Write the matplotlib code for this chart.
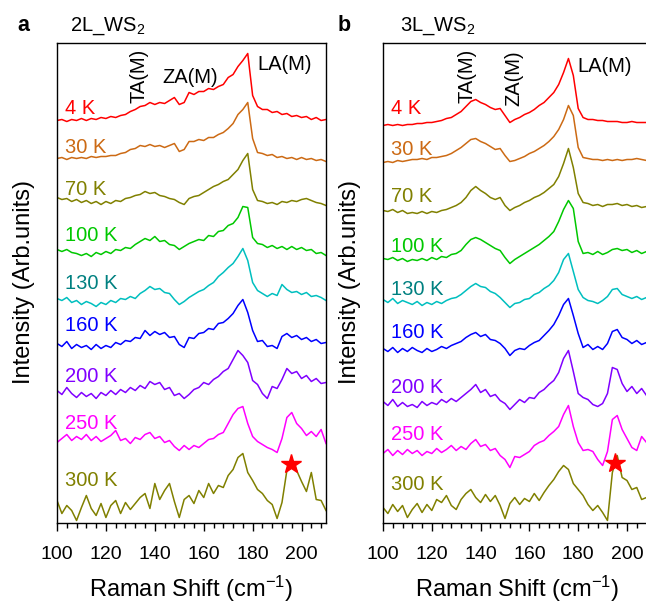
import numpy as np
import matplotlib
matplotlib.use('Agg')
import matplotlib.pyplot as plt
from matplotlib.ticker import MultipleLocator

plt.rcParams['font.family'] = ['Liberation Sans', 'DejaVu Sans']
plt.rcParams['mathtext.fontset'] = 'custom'
plt.rcParams['mathtext.rm'] = 'Liberation Sans'
plt.rcParams['mathtext.it'] = 'Liberation Sans:italic'
plt.rcParams['mathtext.bf'] = 'Liberation Sans:bold'

# Raman shift grid (cm-1)
shift = np.arange(100, 211, 2)

temps = ['4 K', '30 K', '70 K', '100 K', '130 K', '160 K', '200 K', '250 K', '300 K']
line_colors = ['#FF0000', '#CC6A14', '#808000', '#00C800', '#00BFBF',
               '#0000FF', '#8000FF', '#FF00FF', '#808000']
label_colors = ['#FF0000', '#CC6A14', '#808000', '#00C800', '#008080',
                '#0000FF', '#8000FF', '#FF00FF', '#808000']

# vertical offsets of the stacked spectra
offsets_2L = [402, 364, 324, 272, 224, 179, 132, 80, 17]
offsets_3L = [397, 360, 312, 264, 223, 174, 121, 69, 15]

# 2L WS2 spectra (arb. units)
a_4K = [0, 1, -1, 1, 0, 2, 0, 2, 1, 3,
        2, 4, 3, 5, 6, 9, 11, 14, 15, 18,
        16, 18, 17, 20, 23, 16, 18, 28, 26, 29,
        29, 32, 31, 34, 36, 43, 46, 54, 60, 67,
        25, 14, 11, 11, 8, 9, 6, 7, 4, 5,
        3, 4, 1, 3, 0, 1]
a_30K = [0, 1, -1, 1, 0, 1, 0, 2, 1, 2,
         2, 3, 3, 5, 6, 9, 10, 13, 12, 14,
         12, 13, 11, 13, 15, 7, 9, 17, 17, 19,
         18, 21, 21, 24, 26, 30, 35, 44, 49, 56,
         20, 6, 5, 3, 4, 1, 2, 0, 1, -1,
         1, -1, 0, -2, -1, -3]
a_70K = [1, -1, 0, -3, -1, -4, -2, -5, -3, -6,
         -3, -5, -2, -3, 0, 1, 3, 4, 7, 5,
         6, 3, 2, 0, -1, -4, -6, 0, 2, 3,
         6, 9, 12, 14, 17, 19, 24, 29, 38, 45,
         9, -2, -3, -5, -4, -6, -3, -4, -2, -3,
         -1, 0, -2, -4, -5, -7]
a_100K = [1, -1, 1, -2, -3, -5, -3, -6, -2, -4,
          -1, -3, 1, 0, 3, 2, 6, 9, 12, 10,
          14, 9, 10, 6, 5, 1, 4, 7, 9, 11,
          10, 15, 14, 19, 20, 25, 27, 33, 44, 43,
          13, 7, 6, 3, 5, 2, 4, 1, 4, 1,
          3, 0, 1, -3, -2, -5]
a_130K = [0, -2, 1, -4, -2, -6, -3, -5, -8, -4,
          -6, -2, -4, 0, -1, 2, 0, 5, 8, 12,
          9, 10, 6, 5, -1, -6, -3, 1, 4, 7,
          9, 13, 16, 22, 26, 31, 35, 42, 50, 38,
          16, 8, 5, 2, 5, 3, 14, 9, 6, 7,
          4, 6, 2, 3, 1, -2]
a_160K = [0, -3, 2, -5, -1, -4, -2, -6, -1, -5,
          -2, -4, 1, -1, 3, 2, 6, 5, 13, 8,
          12, 9, 11, 6, 7, -1, -4, 6, 5, 10,
          11, 15, 14, 20, 21, 25, 30, 38, 44, 31,
          13, 2, 3, -3, -2, -5, 7, 10, 6, 8,
          4, 6, 2, 4, 0, 1]
a_200K = [0, -4, 3, -3, -7, -2, -6, -3, -8, -2,
          -5, 0, -4, 1, -2, 3, 0, 5, 2, 9,
          6, 8, 1, 3, -5, -3, -8, -4, 1, 3,
          8, 6, 11, 14, 19, 22, 31, 40, 35, 28,
          10, 6, -3, -8, 4, 2, 11, 22, 17, 19,
          12, 15, 9, 12, 7, 8]
a_250K = [0, 4, 8, 2, 6, 3, 8, 2, 6, 1,
          4, 7, 12, 2, 4, -1, 5, 3, 8, 10,
          4, 6, 0, 2, -4, -8, -3, -7, -3, -5,
          -1, 3, 4, 8, 10, 19, 28, 34, 36, 19,
          6, 1, -2, -5, -7, -10, 4, 25, 30, 19,
          14, 7, 11, 6, 13, -1]
a_300K = [5, -8, 0, -5, -15, -2, 10, -3, -10, 2,
          -12, 0, 5, -8, 3, -4, 2, 8, 12, -3,
          22, 6, 15, 22, 4, -12, 6, 10, 2, 15,
          8, 22, 12, 20, 18, 30, 36, 48, 52, 33,
          25, 16, 12, 5, 1, -13, 3, 35, 42, 35,
          24, 14, 33, 6, 5, -5]

# 3L WS2 spectra
b_4K = [0, 1, 0, 1, 0, 1, 1, 2, 2, 3,
        3, 4, 5, 7, 8, 11, 14, 19, 24, 26,
        23, 21, 18, 16, 17, 10, 3, 6, 8, 11,
        13, 16, 20, 23, 28, 33, 41, 53, 67, 50,
        17, 8, 6, 6, 5, 5, 4, 4, 4, 3,
        3, 4, 3, 3, 3, 3]
b_30K = [0, 1, 0, 2, 1, 2, 3, 3, 4, 3,
         5, 5, 6, 7, 9, 12, 15, 19, 23, 24,
         21, 19, 16, 13, 14, 7, 1, 2, 4, 6,
         9, 11, 14, 17, 21, 26, 33, 43, 57, 47,
         15, 5, 4, 3, 3, 2, 3, 2, 3, 2,
         3, 3, 4, 3, 2, 2]
b_70K = [0, -1, 1, -2, 0, -3, -2, -3, -1, -3,
         -1, -2, 0, 1, 3, 5, 8, 13, 20, 24,
         20, 17, 13, 11, 13, 5, 0, 3, 5, 8,
         10, 13, 15, 18, 22, 26, 34, 47, 62, 43,
         17, 8, 7, 5, 6, 4, 6, 6, 7, 5,
         6, 4, 5, 3, 4, 3]
b_100K = [0, -1, 1, -2, 0, -3, -1, -2, 0, -2,
          1, -1, 2, 1, 4, 5, 8, 14, 19, 21,
          19, 16, 13, 10, 8, 1, -5, -1, 2, 5,
          8, 11, 14, 18, 22, 27, 37, 49, 58, 50,
          17, 5, 6, 4, 7, 4, 6, 9, 10, 8,
          9, 6, 8, 5, 7, 6]
b_130K = [0, -3, 1, -4, -1, -3, -5, -2, -6, -3,
          -5, -2, -4, -1, 1, 2, 5, 9, 13, 16,
          13, 12, 8, 6, 2, -3, -8, -4, -3, 0,
          1, 5, 7, 11, 14, 19, 27, 40, 46, 28,
          10, 2, -1, -2, -4, -1, 3, 10, 11, 5,
          3, 1, 3, 0, 2, 1]
b_160K = [0, -3, 1, -4, 0, -3, 1, -2, -4, 0,
          -3, -1, 2, 0, 3, 5, 7, 11, 14, 16,
          12, 14, 9, 8, 5, 0, -7, -2, 0, -1,
          3, 6, 8, 13, 18, 24, 33, 44, 50, 33,
          15, 1, 4, -1, 2, -1, 5, 17, 19, 11,
          9, 5, 8, 4, 6, 5]
b_200K = [0, -4, 2, -5, -1, -5, -3, -6, 0, -4,
          -1, -3, 2, -1, 3, 0, 4, 8, 12, 17,
          9, 12, 5, 7, 1, -2, -8, -3, 2, -1,
          4, 3, 9, 12, 17, 21, 29, 43, 51, 30,
          8, 4, 2, -3, -5, -2, 8, 34, 32, 18,
          10, 15, 8, 13, 6, 8]
b_250K = [0, 4, -2, 3, -1, 4, 0, 3, -2, 2,
          0, 5, 1, 4, 8, 3, 7, 4, 10, 14,
          7, 9, 3, 5, -2, -6, -14, -3, -4, -1,
          2, 8, 11, 13, 18, 22, 27, 39, 48, 27,
          11, 3, 4, 2, -6, -12, 2, 34, 38, 24,
          15, 6, 3, 17, 11, 12]
b_300K = [0, -6, 3, -4, 2, -10, -2, 4, -5, 3,
          -3, 8, 5, 12, 2, -2, 8, 14, 18, 10,
          5, 13, 6, 12, 2, -11, 4, 10, 3, 9,
          6, 14, 7, 15, 22, 28, 36, 42, 38, 24,
          18, 12, 3, -3, 2, -5, -13, 35, 52, 30,
          27, 18, 20, 8, 10, 6]

spectra_2L = [a_4K, a_30K, a_70K, a_100K, a_130K, a_160K, a_200K, a_250K, a_300K]
spectra_3L = [b_4K, b_30K, b_70K, b_100K, b_130K, b_160K, b_200K, b_250K, b_300K]

# star marking the ~195 cm-1 mode in the 300 K spectra
star_x = [195.5, 195.0]
star_y = [59, 60]

label_y_2L = [414, 375, 333, 287, 239, 197, 146, 99, 42]
label_y_3L = [414, 373, 326, 276, 233, 190, 135, 88, 38]


fig = plt.figure(figsize=(6.46, 6.03), dpi=100)
ax_a = fig.add_axes([57 / 646, 80.5 / 603, 269 / 646, 480 / 603])
ax_b = fig.add_axes([383 / 646, 80.5 / 603, 268.4 / 646, 480 / 603])


def draw_panel(ax, spectra, offsets, label_y, sx, sy):
    for i in range(len(temps)):
        ax.plot(shift, np.array(spectra[i]) + offsets[i], color=line_colors[i], lw=1.1)
        ax.text(103.3, label_y[i], temps[i], color=label_colors[i], fontsize=14.5,
                ha='left', va='center')
    ax.plot(sx, sy, marker='*', color='red', ms=15, ls='none')
    ax.set_xlim(100, 210)
    ax.set_ylim(0, 480)
    ax.set_yticks([])
    ax.xaxis.set_major_locator(MultipleLocator(20))
    ax.xaxis.set_minor_locator(MultipleLocator(4))
    ax.tick_params(axis='x', which='major', direction='out', length=6, width=1,
                   pad=11, labelsize=14)
    ax.tick_params(axis='x', which='minor', direction='out', length=3.5, width=1)
    for s in ax.spines.values():
        s.set_linewidth(1.0)
    ax.set_xlabel('Raman Shift (cm$^{-1}$)', fontsize=17, labelpad=8)
    ax.set_ylabel('Intensity (Arb.units)', fontsize=17, labelpad=16)


draw_panel(ax_a, spectra_2L, offsets_2L, label_y_2L, star_x[0], star_y[0])
draw_panel(ax_b, spectra_3L, offsets_3L, label_y_3L, star_x[1], star_y[1])

ax_a.text(133.5, 447, 'TA(M)', rotation=90, ha='center', va='center', fontsize=14.5)
ax_a.text(154.3, 445, 'ZA(M)', ha='center', va='center', fontsize=14.5)
ax_a.text(193.1, 458, 'LA(M)', ha='center', va='center', fontsize=14.5)

ax_b.text(134.6, 447, 'TA(M)', rotation=90, ha='center', va='center', fontsize=14.5)
ax_b.text(153.7, 444, 'ZA(M)', rotation=90, ha='center', va='center', fontsize=14.5)
ax_b.text(191.0, 456, 'LA(M)', ha='center', va='center', fontsize=14.5)

fig.text(17 / 646, 1 - 31 / 603, 'a', fontsize=15.5, fontweight='bold', va='baseline')
fig.text(70 / 646, 1 - 31 / 603, '2L_WS$_2$', fontsize=14.5, va='baseline')
fig.text(338 / 646, 1 - 31 / 603, 'b', fontsize=15.5, fontweight='bold', va='baseline')
fig.text(400 / 646, 1 - 31 / 603, '3L_WS$_2$', fontsize=14.5, va='baseline')

fig.savefig('out.png', dpi=100)
